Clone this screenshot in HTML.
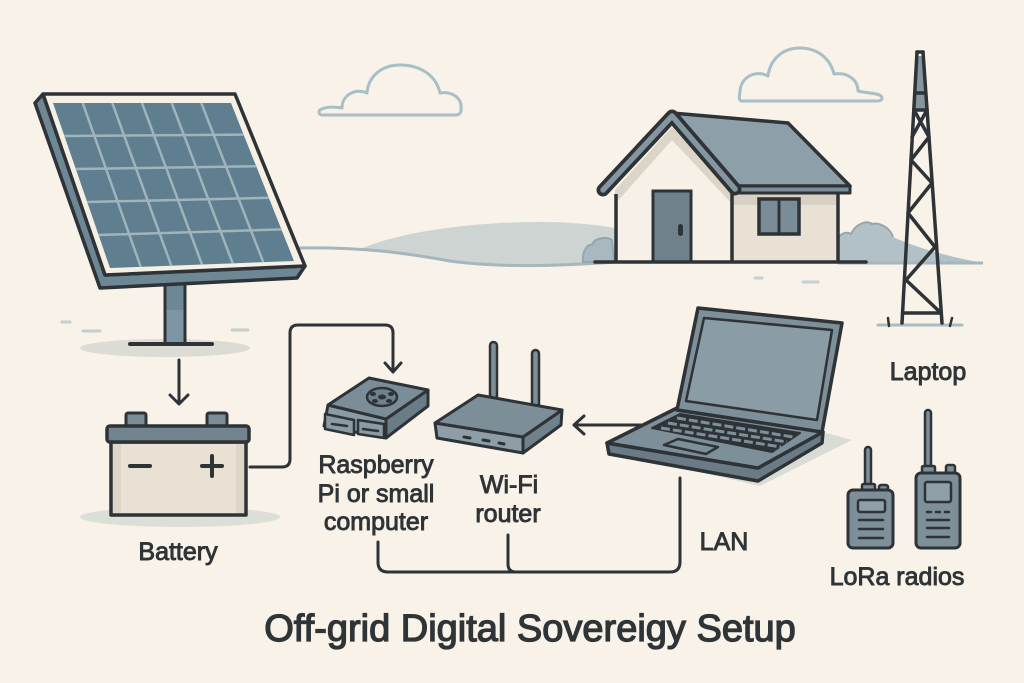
<!DOCTYPE html>
<html><head><meta charset="utf-8"><style>
html,body{margin:0;padding:0;background:#f8f2e8;}
svg{display:block;}
text{font-family:"Liberation Sans",Arial,sans-serif;fill:#2f3437;}
</style></head><body>
<svg width="1024" height="683" viewBox="0 0 1024 683" xmlns="http://www.w3.org/2000/svg">
<rect width="1024" height="683" fill="#f8f2e8"/>

<!-- clouds -->
<g fill="none" stroke="#a7bfc6" stroke-width="3" stroke-linejoin="round">
<path d="M323,115 L455,115 Q462,115 461,108 C462,98 452,91 440,93 C436,75 420,65 400,65 C380,65 368,78 367,93 C355,88 342,95 342,108 C330,106 319,108 319,112 Q319,115 323,115 Z"/>
<path d="M742,101 L878,101 Q884,100 881,96 C878,93 865,93 858,91 C858,80 848,72 834,74 C830,58 817,48 800,48 C782,48 770,60 768,76 C755,69 740,78 740,92 Q738,101 742,101 Z"/>
</g>

<!-- hills -->
<path d="M360,249 C400,232 470,222 540,222 C570,222 600,225 615,228 L615,262 C560,266 500,268 450,262 C410,256 380,250 360,249 Z" fill="#cdd4d1"/>
<path d="M298,248 C360,247 400,252 450,261 C500,268 560,266 615,262" fill="none" stroke="#a5b6bc" stroke-width="3"/>
<path d="M583,262 C582,250 588,244 592,245 C594,238 606,236 612,240 L614,262 Z" fill="#a9b8be" stroke="#93a7af" stroke-width="2"/>
<path d="M838,262 L838,238 C842,232 848,232 851,234 C856,223 868,220 872,224 C880,222 890,228 893,237 C910,245 940,255 983,263 Z" fill="#b2c1c6"/>
<path d="M838,238 C842,232 848,232 851,234 C856,223 868,220 872,224 C880,222 890,228 893,237" fill="none" stroke="#93a7af" stroke-width="2"/>
<line x1="838" y1="263" x2="983" y2="263" stroke="#a5b6bc" stroke-width="3"/>
<line x1="755" y1="278" x2="762" y2="278" stroke="#c5d0d0" stroke-width="3" stroke-linecap="round"/>
<line x1="803" y1="282" x2="818" y2="282" stroke="#c5d0d0" stroke-width="3" stroke-linecap="round"/>

<!-- house -->
<rect x="732" y="186" width="106" height="76" fill="#e9e1d3"/>
<rect x="732" y="190" width="106" height="15" fill="#d8d0c2"/>
<polygon points="615,190 672,127 732,190 732,262 615,262" fill="#f6f0e6"/>
<polygon points="615,190 672,127 732,192 732,204 672,140 615,204" fill="#dcd4c6"/>
<polygon points="672,113 788,123 850,186 732,186" fill="#8d9fa9" stroke="#2e3337" stroke-width="3.5" stroke-linejoin="round"/>
<polygon points="732,186 850,186 850,193 732,193" fill="#7b8d97" stroke="#2e3337" stroke-width="3" stroke-linejoin="round"/>
<path d="M603,190 L672,116 L735,189" fill="none" stroke="#2e3337" stroke-width="13" stroke-linejoin="round" stroke-linecap="round"/>
<path d="M603,190 L672,116 L735,189" fill="none" stroke="#8496a0" stroke-width="5.5" stroke-linejoin="round" stroke-linecap="round"/>
<g stroke="#2e3337" stroke-width="3.5">
<line x1="616" y1="194" x2="616" y2="262"/>
<line x1="732" y1="192" x2="732" y2="262"/>
<line x1="838" y1="193" x2="838" y2="262"/>
</g>
<rect x="653" y="191" width="38" height="71" fill="#6f818b" stroke="#2e3337" stroke-width="3"/>
<rect x="678" y="224" width="5" height="12" rx="2.5" fill="#2e3337"/>
<rect x="759" y="199" width="40" height="35" fill="#7a8c97" stroke="#2e3337" stroke-width="3.5"/>
<line x1="779" y1="199" x2="779" y2="234" stroke="#2e3337" stroke-width="3"/>
<line x1="595" y1="262" x2="866" y2="262" stroke="#2e3337" stroke-width="3.5" stroke-linecap="round"/>

<!-- tower -->
<line x1="878" y1="325" x2="962" y2="325" stroke="#a9bcc2" stroke-width="3" stroke-linecap="round"/>
<polygon points="917,56 923,56 926,110 914,110" fill="#8596a0"/>
<g stroke="#2e3337" stroke-width="3.5" fill="none" stroke-linecap="round" stroke-linejoin="round">
<path d="M917,52 L902,323"/>
<path d="M923,52 L942,323"/>
<path d="M917,52 L923,52"/>
<path d="M916,93 L925,93"/>
<path d="M914,110 L927,110"/>
<path d="M914,110 L929,137 L911,160 L932,183 L908,213 L935,247 L906,280 L941,313"/>
<path d="M927,110 L912,137"/>
<path d="M902.6,313 L941.3,313"/>
</g>
<g stroke="#2e3337" stroke-width="2.5" stroke-linecap="round">
<line x1="888" y1="318" x2="889" y2="326"/>
<line x1="952" y1="318" x2="950" y2="326"/>
</g>

<!-- solar panel -->
<ellipse cx="165" cy="348" rx="85" ry="9" fill="#dcdcd4"/>
<g stroke="#c5cfcf" stroke-width="3" stroke-linecap="round">
<line x1="62" y1="322" x2="70" y2="322"/>
<line x1="83" y1="331" x2="100" y2="331"/>
<line x1="232" y1="330" x2="248" y2="330"/>
</g>
<rect x="165" y="276" width="20" height="67" fill="#6e8795" stroke="#2e3337" stroke-width="3"/>
<rect x="166.5" y="310" width="17" height="32" fill="#7e96a3"/>
<line x1="130" y1="344" x2="212" y2="344" stroke="#2e3337" stroke-width="4" stroke-linecap="round"/>
<polygon points="43,94 35,103 100,288 297,278 305,266 105,275" fill="#6e8795" stroke="#2e3337" stroke-width="3.5" stroke-linejoin="round"/>
<polygon points="43,94 235,94 305,266 105,275" fill="#f5efe4" stroke="#2e3337" stroke-width="3.5" stroke-linejoin="round"/>
<polygon points="53,103 231,103 294,261 110,268" fill="#5f7e90"/>
<g stroke="#9fb4bb" stroke-width="2.5">
<line x1="82.7" y1="103" x2="140.7" y2="266.8"/>
<line x1="112.3" y1="103" x2="171.3" y2="265.7"/>
<line x1="142" y1="103" x2="202" y2="264.5"/>
<line x1="171.7" y1="103" x2="232.7" y2="263.3"/>
<line x1="201.3" y1="103" x2="263.3" y2="262.2"/>
<line x1="64.4" y1="136" x2="243.6" y2="134.6"/>
<line x1="75.8" y1="169" x2="256.2" y2="166.2"/>
<line x1="87.2" y1="202" x2="268.8" y2="197.8"/>
<line x1="98.6" y1="235" x2="281.4" y2="229.4"/>
</g>

<!-- arrow to battery -->
<g stroke="#2e3337" stroke-width="3" fill="none" stroke-linecap="round" stroke-linejoin="round">
<line x1="179" y1="360" x2="179" y2="403"/>
<polyline points="170,395 179,404 188,395"/>
</g>

<!-- battery -->
<ellipse cx="180" cy="517" rx="100" ry="10" fill="#dcdfd8"/>
<rect x="126" y="413" width="20" height="14" rx="2" fill="#7b8d97" stroke="#2e3337" stroke-width="3"/>
<rect x="207" y="413" width="20" height="14" rx="2" fill="#7b8d97" stroke="#2e3337" stroke-width="3"/>
<rect x="111" y="442" width="135" height="73" fill="#e9e1d3" stroke="#2e3337" stroke-width="3.5" stroke-linejoin="round"/>
<rect x="113" y="444" width="8" height="69" fill="#ddd5c6"/>
<rect x="236" y="444" width="8" height="69" fill="#ddd5c6"/>
<rect x="107" y="426" width="142" height="16" rx="3" fill="#71848f" stroke="#2e3337" stroke-width="3.5"/>
<g stroke="#2e3337" stroke-width="4" stroke-linecap="round">
<line x1="130" y1="466" x2="150" y2="466"/>
<line x1="202" y1="466" x2="222" y2="466"/>
<line x1="212" y1="456" x2="212" y2="476"/>
</g>

<!-- wire battery -> pi -->
<g stroke="#2e3337" stroke-width="3" fill="none" stroke-linecap="round" stroke-linejoin="round">
<path d="M250,467 H282 Q290,467 290,459 V333 Q290,325 298,325 H385 Q393,325 393,333 V371"/>
<polyline points="385,363 393,372 401,363"/>
</g>

<!-- raspberry pi -->
<g stroke="#2e3337" stroke-width="3" stroke-linejoin="round">
<polygon points="328,405 386,419 386,438 324,426" fill="#8a9ba3"/>
<polygon points="386,419 428,390 428,406 386,438" fill="#6a7c86"/>
<polygon points="328,405 369,378 428,390 386,419" fill="#7b8d97"/>
<ellipse cx="382" cy="397" rx="15" ry="9" fill="#6f818b" stroke-width="2.5"/>
<polygon points="325,414 354,420 354,435 325,429" fill="#8a9ba3" stroke-width="2.5"/>
<polygon points="358,420 384,424 384,438 358,434" fill="#8a9ba3" stroke-width="2.5"/>
</g>
<g fill="#2e3337">
<ellipse cx="382" cy="397" rx="4" ry="2.5"/>
<ellipse cx="373" cy="394" rx="3" ry="2"/>
<ellipse cx="391" cy="394" rx="3" ry="2"/>
<ellipse cx="375" cy="401" rx="3" ry="2"/>
<ellipse cx="389" cy="401" rx="3" ry="2"/>
</g>
<g stroke="#2e3337" stroke-width="2.5" stroke-linecap="round">
<line x1="332" y1="424" x2="347" y2="426"/>
<line x1="363" y1="429" x2="378" y2="431"/>
</g>

<!-- router -->
<rect x="490" y="342" width="7" height="66" rx="3.5" fill="#7c8e98" stroke="#2e3337" stroke-width="2.5"/>
<rect x="532" y="350" width="7" height="62" rx="3.5" fill="#7c8e98" stroke="#2e3337" stroke-width="2.5"/>
<g stroke="#2e3337" stroke-width="3" stroke-linejoin="round">
<polygon points="435,423 523,437 523,453 437,438" fill="#8d9ea7"/>
<polygon points="523,437 562,410 561,425 523,453" fill="#6f818b"/>
<polygon points="435,423 478,395 562,410 523,437" fill="#7c8e98"/>
</g>
<g stroke="#2e3337" stroke-width="3" stroke-linecap="round">
<line x1="464" y1="437" x2="470" y2="438"/>
<line x1="483" y1="440" x2="489" y2="441"/>
<line x1="499" y1="443" x2="504" y2="444"/>
</g>

<!-- LAN wires -->
<g stroke="#2e3337" stroke-width="3" fill="none" stroke-linecap="round" stroke-linejoin="round">
<path d="M378,542 V562 Q378,572 388,572 H670 Q680,572 680,562 V478"/>
<path d="M508,535 V564 Q508,572 516,572"/>
</g>

<!-- arrow laptop -> router -->
<g stroke="#2e3337" stroke-width="3" fill="none" stroke-linecap="round" stroke-linejoin="round">
<line x1="650" y1="425" x2="575" y2="425"/>
<polyline points="584,416 574,425 584,434"/>
</g>

<!-- laptop -->
<polygon points="612,452 760,486 852,440 826,433 760,470" fill="#d8dcd5"/>
<g stroke="#2e3337" stroke-width="3.5" stroke-linejoin="round">
<polygon points="607,443 758,468 823,432 822,443 758,481 609,454" fill="#6a7b85"/>
<polygon points="607,443 677,408 823,432 758,468" fill="#7d8f99"/>
<polygon points="698,308 842,323 822,432 677,410" fill="#7d8f99"/>
<polygon points="704,318 832,330 817,420 686,401" fill="#8a9ca5" stroke-width="2.5"/>
<polygon points="652,428 680,414 800,433 772,452" fill="#2e3337" stroke-width="2"/>
</g>
<g stroke="#7d8f99" stroke-width="3" stroke-dasharray="9 3">
<line x1="677" y1="418" x2="793" y2="437"/>
<line x1="668" y1="423" x2="787" y2="442"/>
<line x1="661" y1="428" x2="781" y2="447"/>
</g>
<polygon points="664,445 678,439 718,447 706,454" fill="#7d8f99" stroke="#2e3337" stroke-width="2.5" stroke-linejoin="round"/>

<!-- radios -->
<g stroke="#2e3337" stroke-width="2.5" fill="#7d8f99" stroke-linejoin="round">
<rect x="865" y="447" width="6" height="44" rx="3"/>
<rect x="862" y="484" width="13" height="8" rx="1.5"/>
<rect x="879" y="485" width="9" height="7" rx="2"/>
<rect x="848" y="490" width="45" height="58" rx="5" stroke-width="3"/>
<rect x="858" y="500" width="27" height="12" rx="2" fill="#8ea0a8"/>
<rect x="925" y="410" width="6" height="64" rx="3"/>
<rect x="922" y="466" width="13" height="8" rx="1.5"/>
<rect x="946" y="465" width="9" height="9" rx="2"/>
<rect x="916" y="473" width="44" height="75" rx="5" stroke-width="3"/>
<rect x="925" y="482" width="26" height="20" rx="2" fill="#8ea0a8"/>
</g>
<g stroke="#2e3337" stroke-width="2.5" stroke-linecap="round">
<line x1="859" y1="520" x2="883" y2="520"/>
<line x1="859" y1="529" x2="883" y2="529"/>
<line x1="859" y1="538" x2="883" y2="538"/>
<line x1="927" y1="512" x2="931" y2="512"/>
<line x1="936" y1="512" x2="940" y2="512"/>
<line x1="945" y1="512" x2="949" y2="512"/>
<line x1="927" y1="520" x2="949" y2="520"/>
<line x1="927" y1="528" x2="949" y2="528"/>
<line x1="927" y1="537" x2="949" y2="537"/>
</g>

<!-- labels -->
<g font-size="25" stroke="#2f3437" stroke-width="0.9" text-anchor="middle">
<text x="178" y="560">Battery</text>
<text x="376" y="473">Raspberry</text>
<text x="376" y="502">Pi or small</text>
<text x="376" y="530">computer</text>
<text x="509" y="493">Wi-Fi</text>
<text x="508" y="522">router</text>
<text x="928" y="380">Laptop</text>
<text x="724" y="550">LAN</text>
<text x="897" y="585">LoRa radios</text>
</g>
<text x="530" y="641" font-size="38" text-anchor="middle" stroke="#2f3437" stroke-width="1.3">Off-grid Digital Sovereigy Setup</text>
</svg>
</body></html>
